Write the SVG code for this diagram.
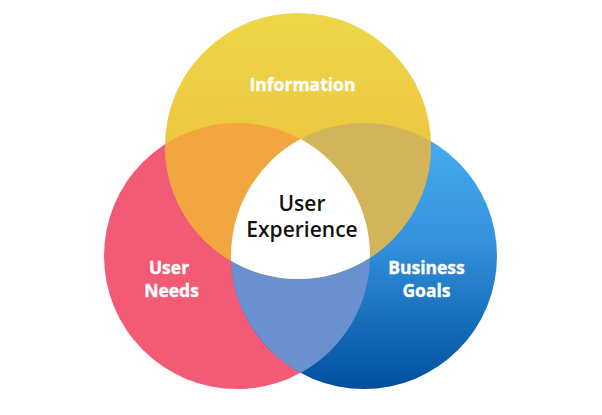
<svg xmlns="http://www.w3.org/2000/svg" width="602" height="415" viewBox="0 0 602 415">
<style>
.w{font-family:"Open Sans","Noto Sans",sans-serif;font-weight:700;font-size:17.500px;fill:#fff;stroke:#fff;stroke-width:0.350;text-anchor:middle}
.k{font-family:"Open Sans","Noto Sans",sans-serif;font-weight:600;font-size:21px;fill:#111;text-anchor:middle}
</style>
<defs>
<linearGradient id="gb" x1="0" y1="0" x2="0" y2="1"><stop offset="0" stop-color="#48b0f2"/><stop offset="0.45" stop-color="#3491dc"/><stop offset="1" stop-color="#004f9e"/></linearGradient>
<linearGradient id="gy" x1="0" y1="0" x2="0" y2="1"><stop offset="0" stop-color="#eed648"/><stop offset="1" stop-color="#ebb83a"/></linearGradient>
</defs>
<rect width="602" height="415" fill="#fff"/>
<g id="user-needs">
<circle cx="237" cy="256" r="133" fill="#f35a75"/>
<text class="w" x="169" y="274">User</text>
<text class="w" x="171.500" y="297">Needs</text>
</g>
<g id="business-goals">
<circle cx="364" cy="256" r="133" fill="url(#gb)"/>
<text class="w" x="426.500" y="274">Business</text>
<text class="w" x="426.500" y="297">Goals</text>
</g>
<g id="overlap-needs-goals">
<path d="M231.100 260.900A133 133 0 0 0 370 257.800A133 133 0 0 1 300.500 372.900A133 133 0 0 1 231.100 260.900Z" fill="#6b90cf"/>
</g>
<g id="information">
<circle cx="298" cy="146" r="133" fill="url(#gy)"/>
<text class="w" x="302.500" y="91">Information</text>
</g>
<g id="overlap-info-needs">
<path d="M165 144.200A133 133 0 0 1 300.500 139.100A133 133 0 0 0 231.100 260.900A133 133 0 0 1 165 144.200Z" fill="#f2a63f"/>
</g>
<g id="overlap-info-goals">
<path d="M300.500 139.100A133 133 0 0 1 430.900 141.100A133 133 0 0 1 370 257.800A133 133 0 0 0 300.500 139.100Z" fill="#d2b55a"/>
</g>
<g id="user-experience">
<path d="M300.500 139.100A133 133 0 0 1 370 257.800A133 133 0 0 1 231.100 260.900A133 133 0 0 1 300.500 139.100Z" fill="#fff"/>
<text class="k" x="302" y="211">User</text>
<text class="k" x="302" y="237">Experience</text>
</g>
<g id="connectors"/>
</svg>
